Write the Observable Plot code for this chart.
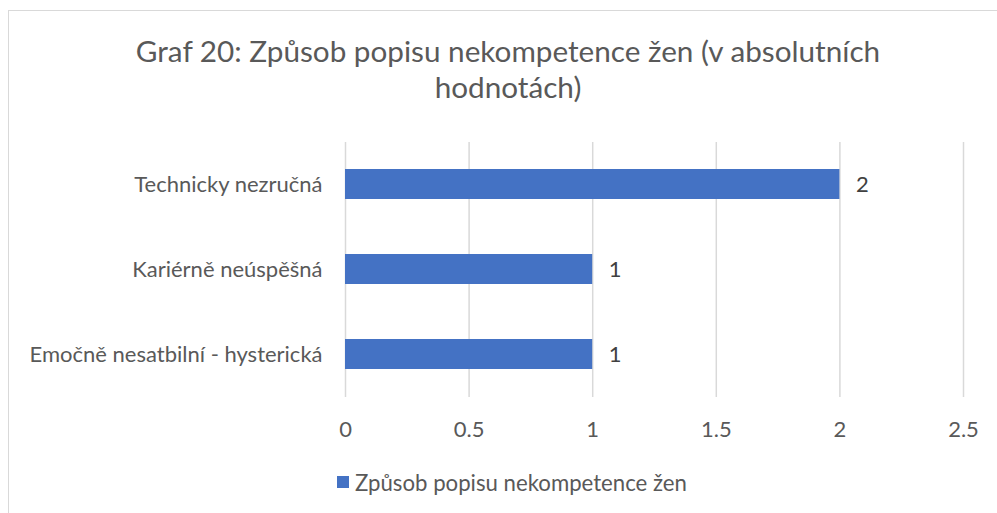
<!DOCTYPE html>
<html>
<head>
<meta charset="utf-8">
<script src="https://cdn.jsdelivr.net/npm/d3@7"></script>
<script src="https://cdn.jsdelivr.net/npm/@observablehq/plot@0.6"></script>
<style>
  html, body { margin: 0; padding: 0; background: #fff; }
  #wrap { position: relative; width: 997px; height: 513px; overflow: hidden; font-family: Lato, "Open Sans", sans-serif; }
  #frame { position: absolute; left: 8px; top: 10px; width: 1200px; height: 700px;
           border-left: 1.5px solid #d9d9d9; border-top: 1.5px solid #d9d9d9; }
  #chart { position: absolute; left: 0; top: 0; }
  #title { position: absolute; left: 0; width: 1016px; top: 33px; text-align: center;
           font-size: 29.7px; line-height: 36px; color: #595959; }
  #legend { position: absolute; left: 337px; top: 470px; height: 24px; display: flex; align-items: center;
            font-size: 22.2px; color: #595959; }
  #legend .sw { width: 12px; height: 12px; margin-right: 6px; }
</style>
</head>
<body>
<div id="wrap">
  <div id="frame"></div>
  <div id="chart"></div>
  <div id="title"></div>
  <div id="legend"></div>
</div>
<script>
// ---- data ----
const titleLines = ["Graf 20: Způsob popisu nekompetence žen (v absolutních", "hodnotách)"];
const categories = ["Technicky nezručná", "Kariérně neúspěšná", "Emočně nesatbilní - hysterická"];
const values = [2, 1, 1];
const seriesName = "Způsob popisu nekompetence žen";
const xTicks = [0, 0.5, 1, 1.5, 2, 2.5];
const xTickLabels = ["0", "0.5", "1", "1.5", "2", "2.5"];
const barColor = "#4472C4";

const data = categories.map((c, i) => ({category: c, value: values[i]}));

document.getElementById("title").innerHTML = titleLines.join("<br>");

const chart = Plot.plot({
  width: 997,
  height: 450,
  marginTop: 142,
  marginBottom: 53,
  marginLeft: 345,
  marginRight: 34,
  style: {fontFamily: "Lato, 'Open Sans', sans-serif", fontSize: "22px", color: "#595959", background: "transparent"},
  x: {domain: [0, 2.5]},
  y: {domain: categories, paddingInner: 0.647, paddingOuter: 0.3235},
  marks: [
    Plot.gridX(xTicks, {stroke: "#d9d9d9", strokeOpacity: 1, strokeWidth: 1.5}),
    Plot.barX(data, {x: "value", y: "category", fill: barColor}),
    Plot.text(data, {x: "value", y: "category", text: d => String(d.value), dx: 16, textAnchor: "start", fill: "#404040", fontSize: 22}),
    Plot.axisX(xTicks, {tickSize: 0, tickPadding: 24, tickFormat: (d, i) => xTickLabels[i], label: null}),
    Plot.axisY({tickSize: 0, tickPadding: 23, label: null})
  ]
});
document.getElementById("chart").appendChild(chart);

const legend = document.getElementById("legend");
const sw = document.createElement("div");
sw.className = "sw";
sw.style.background = barColor;
const lt = document.createElement("span");
lt.textContent = seriesName;
legend.appendChild(sw);
legend.appendChild(lt);
</script>
</body>
</html>
